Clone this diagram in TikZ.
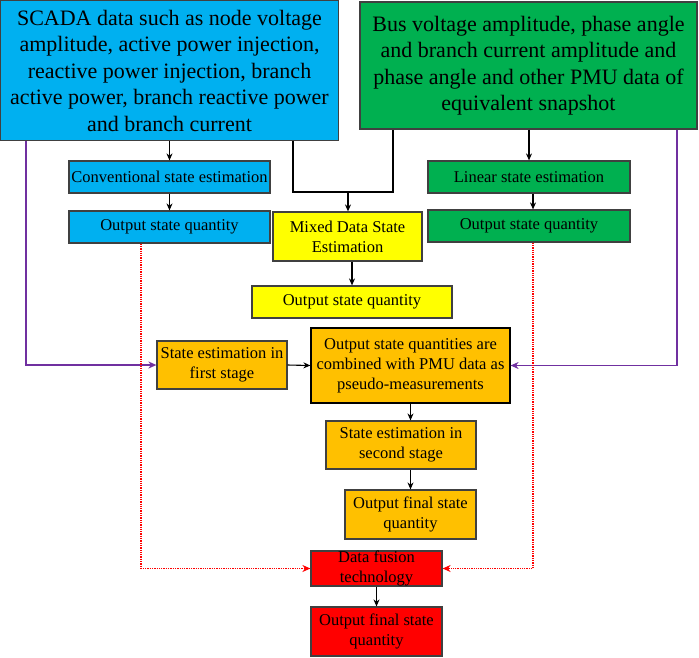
\documentclass[tikz,border=0pt]{standalone}
\usepackage{fontspec}
\setmainfont{Liberation Serif}
\newfontfamily\tnr{Liberation Serif}
\usetikzlibrary{arrows.meta,calc}
\definecolor{cblue}{HTML}{00B0F0}
\definecolor{cgreen}{HTML}{00B050}
\definecolor{cyellow}{HTML}{FFFF00}
\definecolor{corange}{HTML}{FFC000}
\definecolor{cred}{HTML}{FF0000}
\definecolor{cpurple}{HTML}{7030A0}
\definecolor{cborder}{HTML}{404040}
\tikzset{
  box/.style={draw=cborder, line width=1.2pt, inner sep=0pt, align=center, anchor=center},
  bigtxt/.style={font=\tnr\fontsize{22}{26.5}\selectfont},
  smalltxt/.style={font=\tnr\fontsize{16.5}{20}\selectfont},
  arr/.style={line width=1.1pt, -{Stealth[length=7pt,width=6pt]}},
  plain/.style={line width=1.1pt},
  parr/.style={line width=1.4pt, draw=cpurple, -{Stealth[length=8pt,width=7pt]}},
  rarr/.style={line width=1.3pt, draw=cred, densely dotted, -{Stealth[length=8pt,width=7pt]}},
  rline/.style={line width=1.3pt, draw=cred, densely dotted}
}
\begin{document}
\begin{tikzpicture}[x=1pt,y=-1pt]
\useasboundingbox (0,0) rectangle (699,657);
% top boxes
\node[box, bigtxt, fill=cblue, minimum width=338, minimum height=140] (scada) at (169.5,70.5)
  {SCADA data such as node voltage\\amplitude, active power injection,\\reactive power injection, branch\\active power, branch reactive power\\and branch current};
\node[box, bigtxt, fill=cgreen, minimum width=337, minimum height=127] (pmu) at (528.5,65.5)
  {Bus voltage amplitude, phase angle\\and branch current amplitude and\\phase angle and other PMU data of\\equivalent snapshot};
% second level
\node[box, smalltxt, fill=cblue, minimum width=201, minimum height=32] (conv) at (169.5,177) {Conventional state estimation};
\node[box, smalltxt, fill=cblue, minimum width=201, minimum height=32] (outb) at (169.5,227) {Output state quantity};
\node[box, smalltxt, fill=cgreen, minimum width=202, minimum height=32] (lin) at (529,177) {Linear state estimation};
\node[box, smalltxt, fill=cgreen, minimum width=202, minimum height=32] (outg) at (529,226) {Output state quantity};
\node[box, smalltxt, fill=cyellow, minimum width=149, minimum height=49] (mixed) at (347.5,236.5) {Mixed Data State\\Estimation};
\node[box, smalltxt, fill=cyellow, minimum width=200, minimum height=32] (outy) at (352,302) {Output state quantity};
% orange
\node[box, smalltxt, fill=corange, minimum width=130, minimum height=48] (first) at (222,365) {State estimation in\\first stage};
\node[box, smalltxt, fill=corange, draw=black, minimum width=199, minimum height=75] (comb) at (410.5,365.5) {Output state quantities are\\combined with PMU data as\\pseudo-measurements};
\node[box, smalltxt, fill=corange, minimum width=150, minimum height=48] (second) at (401,445) {State estimation in\\second stage};
\node[box, smalltxt, fill=corange, minimum width=131, minimum height=49] (finalo) at (410.5,514.5) {Output final state\\quantity};
% red
\node[box, fill=cred, minimum width=131, minimum height=35] (fusion) at (376.5,568.5) {};
\node[smalltxt, align=center, inner sep=0pt] (fusiont) at (376.5,568.5) {Data fusion\\technology};
\node[box, smalltxt, fill=cred, minimum width=131, minimum height=49] (finalr) at (376.5,631.5) {Output final state\\quantity};
% connectors
\coordinate (j1) at (293,192);
\coordinate (j2) at (393,192);
\coordinate (jm) at (348,192);
\coordinate (pl) at (26,0);
\coordinate (pr) at (677,0);
\coordinate (rl) at (141,0);
\coordinate (rr) at (533,0);
\draw[arr] (scada.south -| conv.north) -- (conv.north);
\draw[arr] (conv.south) -- (outb.north);
\draw[arr] (pmu.south -| lin.north) -- (lin.north);
\draw[arr] (lin.south -| rr) -- (outg.north -| rr);
\draw[plain] (scada.south -| j1) -- (j1) -- (j2) -- (pmu.south -| j2);
\draw[arr] (jm) -- (mixed.north -| jm);
\draw[arr] (mixed.south -| outy.north) -- (outy.north);
\draw[parr] (scada.south -| pl) |- (first.west);
\draw[parr] (pmu.south -| pr) |- (comb.east);
\draw[arr] (first.east) -- (comb.west);
\draw[arr] (comb.south) -- (comb.south |- second.north);
\draw[arr] (second.south -| finalo.north) -- (finalo.north);
\draw[rarr] (outb.south -| rl) |- (fusion.west);
\draw[rarr] (outg.south -| rr) |- (fusion.east);
\draw[arr] (fusion.south) -- (finalr.north);
\end{tikzpicture}
\end{document}
